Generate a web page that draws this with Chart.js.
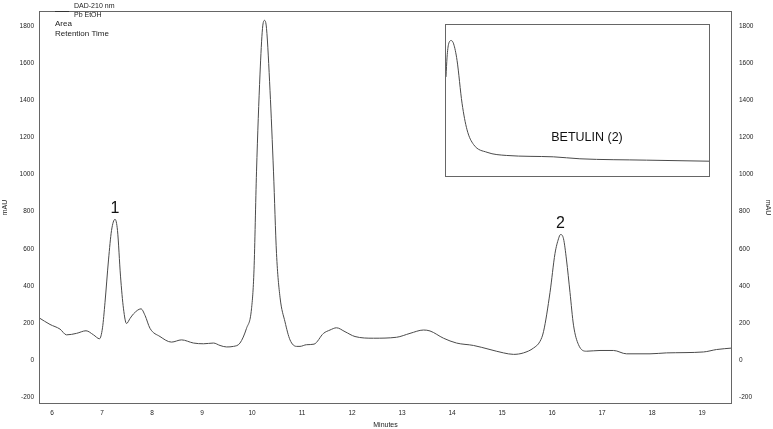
<!DOCTYPE html>
<html><head><meta charset="utf-8">
<script src="https://cdn.jsdelivr.net/npm/chart.js@4"></script>
<style>
html,body{margin:0;padding:0;background:#fff;}
#wrap{position:relative;width:773px;height:429px;}
#main{position:absolute;left:0;top:0;}
#insetBox{position:absolute;left:445px;top:24px;width:265px;height:153px;border:1px solid #666;box-sizing:border-box;background:#fff;}
#inset{display:block;}
#swatch{position:absolute;left:55px;top:11px;width:14px;height:1px;background:#333;}
</style>
</head><body>
<div id="wrap">
<canvas id="main" width="773" height="429"></canvas>
<div id="swatch"></div>
<div id="insetBox"><canvas id="inset" width="263" height="151"></canvas></div>
</div>
<script>
// Main chromatogram (retention time in minutes, absorbance in mAU)
const minutes = [5.74,5.96,6.16,6.29,6.49,6.68,6.83,6.95,7.01,7.06,7.13,7.19,7.26,7.31,7.37,7.43,7.49,7.56,7.63,7.78,7.86,7.96,8.16,8.39,8.59,8.83,9.03,9.23,9.36,9.49,9.63,9.76,9.89,9.99,10.04,10.09,10.16,10.21,10.25,10.29,10.36,10.43,10.49,10.56,10.66,10.76,10.89,10.96,11.09,11.24,11.43,11.56,11.69,11.86,12.06,12.43,12.89,13.16,13.43,13.56,13.83,14.09,14.43,14.76,15.03,15.23,15.43,15.63,15.76,15.83,15.96,16.06,16.13,16.17,16.23,16.29,16.36,16.43,16.53,16.69,16.96,17.23,17.49,17.96,18.29,19.03,19.29,19.6];
const mAU = [229,193,168,137,145,159,137,116,175,312,540,698,759,698,453,277,198,225,250,277,242,172,128,98,110,93,89,93,80,72,75,93,172,277,487,1014,1540,1786,1829,1786,1453,1014,575,340,207,110,75,75,84,87,145,163,175,154,128,119,124,145,163,158,119,93,80,58,40,32,40,66,102,154,365,575,654,677,654,540,365,189,84,49,53,53,35,35,40,45,58,66];
const yTicks = [-200,0,200,400,600,800,1000,1200,1400,1600,1800];
const xTicks = [6,7,8,9,10,11,12,13,14,15,16,17,18,19];
const peakLabels = ['1','2'];
const peakTimes = [7.26,16.17];
const peakValues = [759,677];
const legendLines = ['DAD-210 nm','Pb EtOH'];
const infoLines = ['Area','Retention Time'];
// Inset (relative position, relative signal)
const insetX = [0,0.004,0.010,0.020,0.029,0.042,0.061,0.080,0.105,0.156,0.231,0.408,0.509,0.762,1.0];
const insetY = [65.6,78.7,87.5,89.7,87.5,76.6,48.2,30.6,20.8,15.7,13.6,12.7,11.4,10.5,9.8];
const insetLabel = 'BETULIN (2)';

const FONT = 'Liberation Sans, Arial, sans-serif';
const TXT = '#222';
const plain = v => String(v);

const overlay = {
  id: 'overlay',
  afterDraw(chart) {
    const ctx = chart.ctx, a = chart.chartArea;
    const xs = chart.scales.x, ys = chart.scales.y;
    ctx.save();
    ctx.strokeStyle = '#666'; ctx.lineWidth = 1;
    ctx.strokeRect(Math.round(a.left) + 0.5, Math.round(a.top) + 0.5, Math.round(a.right - a.left) - 1, Math.round(a.bottom - a.top) - 1);
    ctx.fillStyle = TXT; ctx.textBaseline = 'middle'; ctx.textAlign = 'left';
    ctx.font = '7px ' + FONT;
    ctx.fillText(legendLines[0], 74, 6);
    ctx.fillText(legendLines[1], 74, 15.5);
    ctx.font = '8px ' + FONT;
    ctx.fillText(infoLines[0], 55, 23.5);
    ctx.fillText(infoLines[1], 55, 34);
    // peak labels
    ctx.font = '16px ' + FONT; ctx.textAlign = 'center'; ctx.fillStyle = '#111';
    for (let i = 0; i < peakLabels.length; i++) {
      ctx.fillText(peakLabels[i], xs.getPixelForValue(peakTimes[i]), ys.getPixelForValue(peakValues[i]) - 11);
    }
    ctx.restore();
  }
};

new Chart(document.getElementById('main'), {
  type: 'line',
  data: { datasets: [{ data: minutes.map((t, i) => ({x: t, y: mAU[i]})), borderColor: '#4a4a4a', borderWidth: 1, pointRadius: 0, cubicInterpolationMode: 'monotone', fill: false }] },
  options: {
    responsive: false, animation: false, devicePixelRatio: 1,
    layout: { padding: { top: 2, left: 0, right: 0, bottom: 0 } },
    plugins: { legend: { display: false }, tooltip: { enabled: false } },
    scales: {
      x: {
        type: 'linear', min: 5.74, max: 19.6,
        afterBuildTicks: s => { s.ticks = xTicks.map(v => ({value: v})); },
        afterFit: s => { s.height = 25; },
        grid: { display: false, drawTicks: false },
        border: { display: false },
        ticks: { font: { size: 6.5, family: FONT }, color: TXT, padding: 5, maxRotation: 0, callback: plain },
        title: { display: true, text: 'Minutes', font: { size: 7, family: FONT }, color: TXT, padding: { top: 0, bottom: 0 } }
      },
      y: {
        position: 'left', min: -235, max: 1880,
        afterBuildTicks: s => { s.ticks = yTicks.map(v => ({value: v})); },
        afterFit: s => { s.width = 39; },
        grid: { display: false, drawTicks: false },
        border: { display: false },
        ticks: { font: { size: 6.5, family: FONT }, color: TXT, padding: 5, callback: plain },
        title: { display: true, text: 'mAU', font: { size: 7, family: FONT }, color: TXT, padding: { top: 1, bottom: 0 } }
      },
      y2: {
        position: 'right', min: -235, max: 1880,
        afterBuildTicks: s => { s.ticks = yTicks.map(v => ({value: v})); },
        afterFit: s => { s.width = 41; },
        grid: { display: false, drawTicks: false },
        border: { display: false },
        ticks: { font: { size: 6.5, family: FONT }, color: TXT, padding: 7, callback: plain },
        title: { display: true, text: 'mAU', font: { size: 7, family: FONT }, color: TXT, padding: { top: 1, bottom: 0 } }
      }
    }
  },
  plugins: [overlay]
});

const insetText = {
  id: 'insetText',
  afterDraw(chart) {
    const ctx = chart.ctx;
    ctx.save();
    ctx.font = '12.5px ' + FONT; ctx.fillStyle = '#111';
    ctx.textAlign = 'center'; ctx.textBaseline = 'middle';
    ctx.fillText(insetLabel, 141, 113);
    ctx.restore();
  }
};

new Chart(document.getElementById('inset'), {
  type: 'line',
  data: { datasets: [{ data: insetX.map((x, i) => ({x: x, y: insetY[i]})), borderColor: '#4a4a4a', borderWidth: 1, pointRadius: 0, cubicInterpolationMode: 'monotone', fill: false }] },
  options: {
    responsive: false, animation: false, devicePixelRatio: 1,
    layout: { padding: 0 },
    plugins: { legend: { display: false }, tooltip: { enabled: false } },
    scales: {
      x: { type: 'linear', min: 0, max: 1, display: false },
      y: { min: 0, max: 100, display: false }
    }
  },
  plugins: [insetText]
});
</script>
</body></html>
